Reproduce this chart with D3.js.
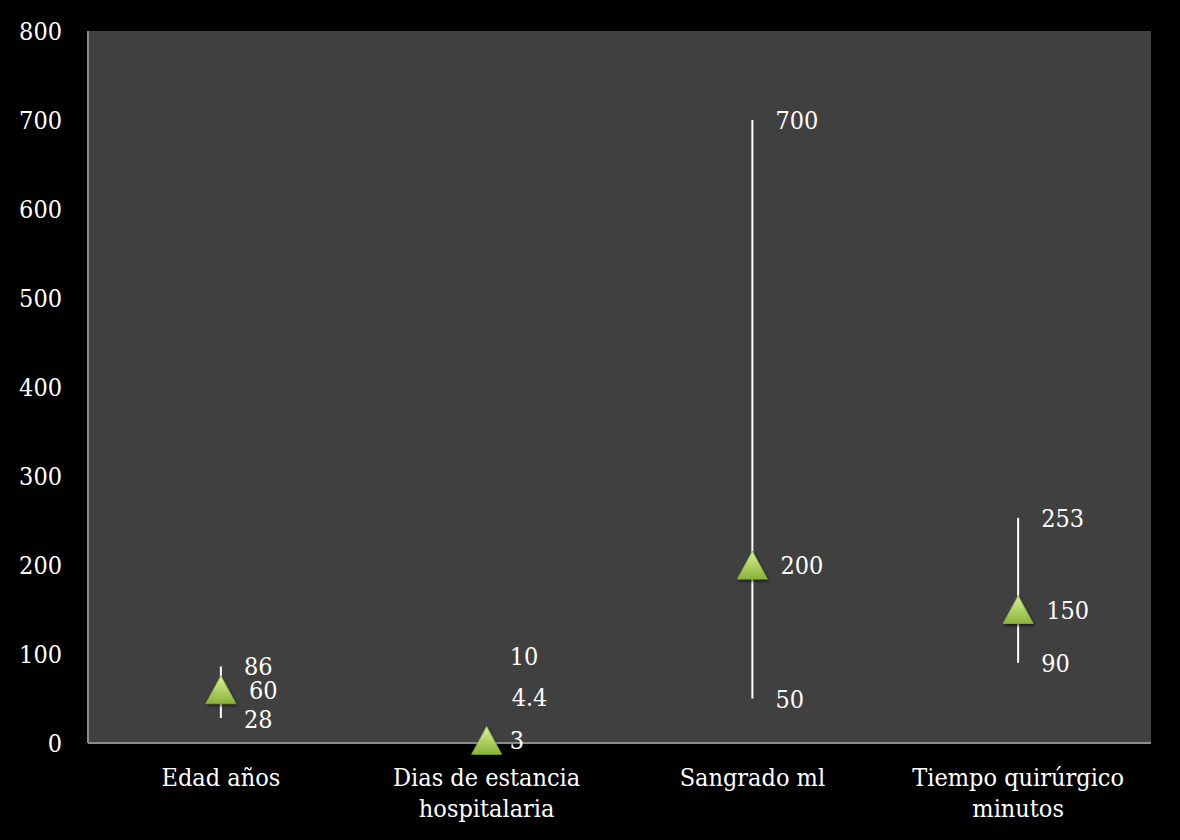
<!DOCTYPE html>
<html><head><meta charset="utf-8">
<script src="https://cdn.jsdelivr.net/npm/d3@7"></script>
<style>
html,body{margin:0;padding:0;background:#000;}
svg{display:block;}
text{font-family:"DejaVu Serif Condensed","DejaVu Serif",serif;font-stretch:condensed;fill:#fff;}
</style></head>
<body>
<svg id="c" width="1180" height="840"></svg>
<script>
const categories = [["Edad años"],["Dias de estancia","hospitalaria"],["Sangrado ml"],["Tiempo quirúrgico","minutos"]];
const highValues = [86, 10, 700, 253];
const lowValues = [28, 3, 50, 90];
const centralValues = [60, 3, 200, 150];
const highLabels = ["86","10","700","253"];
const midLabels = ["60","4.4","200","150"];
const lowLabels = ["28","3","50","90"];
const yTicks = [0,100,200,300,400,500,600,700,800];
// label placement (in value units) for the crowded "Dias" category
const labelValueHigh = [87, 98, 700, 253];
const labelValueMid = [60, 52, 200, 150];
const labelValueLow = [27, 3, 50, 90];

const FS = 25;
const svg = d3.select("#c");
const W = 1180, H = 840;
const m = {left:88, right:29, top:31, bottom:97};
const x = d3.scaleBand().domain(d3.range(categories.length)).range([m.left, W-m.right]).padding(0);
const y = d3.scaleLinear().domain([0,800]).range([H-m.bottom, m.top]);
const cx = i => x(i) + x.bandwidth()/2;

const defs = svg.append("defs");
const g = defs.append("linearGradient").attr("id","tri").attr("x1",0).attr("y1",0).attr("x2",0).attr("y2",1);
g.append("stop").attr("offset","0%").attr("stop-color","#dcefa4");
g.append("stop").attr("offset","55%").attr("stop-color","#aed061");
g.append("stop").attr("offset","100%").attr("stop-color","#8ab33b");
const f = defs.append("filter").attr("id","sh").attr("x","-50%").attr("y","-50%").attr("width","200%").attr("height","200%");
f.append("feDropShadow").attr("dx",1).attr("dy",2).attr("stdDeviation",1.5).attr("flood-color","#000").attr("flood-opacity",0.6);

svg.append("rect").attr("x",0).attr("y",0).attr("width",W).attr("height",H).attr("fill","#000");
svg.append("rect").attr("x",m.left).attr("y",m.top).attr("width",W-m.left-m.right).attr("height",H-m.top-m.bottom).attr("fill","#404040");

// axes
svg.append("line").attr("x1",m.left).attr("x2",m.left).attr("y1",m.top).attr("y2",y(0)).attr("stroke","#8c8c8c").attr("stroke-width",2);
svg.append("line").attr("x1",m.left).attr("x2",W-m.right).attr("y1",y(0)).attr("y2",y(0)).attr("stroke","#8c8c8c").attr("stroke-width",2);

svg.selectAll(".yt").data(yTicks).join("text")
  .attr("x",62).attr("y",d=>y(d)).attr("dy","0.36em")
  .attr("text-anchor","end").attr("font-size",FS).text(d=>d);

// category labels
categories.forEach((lines,i)=>{
  const t = svg.append("text").attr("text-anchor","middle").attr("font-size",FS);
  lines.forEach((ln,j)=>{
    t.append("tspan").attr("x",cx(i)).attr("y",786 + j*31).text(ln);
  });
});

// high-low lines
svg.selectAll(".hl").data(categories).join("line")
  .attr("x1",(d,i)=>cx(i)).attr("x2",(d,i)=>cx(i))
  .attr("y1",(d,i)=>y(highValues[i])).attr("y2",(d,i)=>y(lowValues[i]))
  .attr("stroke","#fff").attr("stroke-width",2);

// triangles
const tw = 30, th = 28;
svg.selectAll(".tri").data(categories).join("path")
  .attr("d",(d,i)=>{
    const X = cx(i), Y = y(centralValues[i]);
    return `M${X},${Y-th/2} L${X+tw/2},${Y+th/2} L${X-tw/2},${Y+th/2} Z`;
  })
  .attr("fill","url(#tri)").attr("stroke","#86a83c").attr("stroke-width",0.8)
  .attr("filter","url(#sh)");

// data labels
const lbl = (arr, vals, dx) => svg.selectAll(null).data(arr).join("text")
  .attr("x",(d,i)=>cx(i)+dx).attr("y",(d,i)=>y(vals[i])).attr("dy","0.36em")
  .attr("font-size",FS).text(d=>d);
lbl(highLabels, labelValueHigh, 23);
lbl(lowLabels, labelValueLow, 23);
svg.selectAll(null).data(midLabels).join("text")
  .attr("x",(d,i)=>cx(i)+ (i===1?25:28)).attr("y",(d,i)=>y(labelValueMid[i])).attr("dy","0.36em")
  .attr("font-size",FS).text(d=>d);
</script>
</body></html>
